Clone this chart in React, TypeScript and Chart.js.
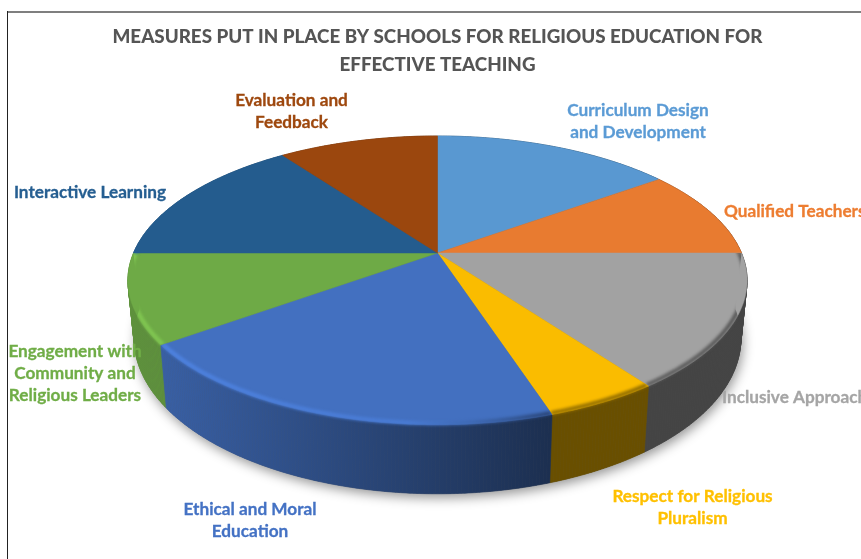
import React, { useEffect, useRef } from "react";
import { Chart, registerables } from "chart.js";

Chart.register(...registerables);

const categories = [
  ["Curriculum Design", "and Development"],
  ["Qualified Teachers"],
  ["Inclusive Approach"],
  ["Respect for Religious", "Pluralism"],
  ["Ethical and Moral", "Education"],
  ["Engagement with", "Community and", "Religious Leaders"],
  ["Interactive Learning"],
  ["Evaluation and", "Feedback"],
];
const shares = [15, 10, 15, 5, 20, 10, 15, 10];
const sliceColors = ["#5B9BD5", "#ED7D31", "#A5A5A5", "#FFC000", "#4472C4", "#70AD47", "#255E91", "#9E480E"];
const titleLines = [
  "MEASURES PUT IN PLACE BY SCHOOLS FOR RELIGIOUS EDUCATION FOR",
  "EFFECTIVE TEACHING",
];

// Label placement on the canvas: [x, first line centre y, text alignment]
const labelAnchors: [number, number, CanvasTextAlign][] = [
  [630, 97, "center"],
  [716, 198, "left"],
  [714, 384, "left"],
  [684.5, 483, "center"],
  [242, 496, "center"],
  [67, 338, "center"],
  [82, 179, "center"],
  [283.5, 87, "center"],
];

const FONT = "Lato, Carlito, sans-serif";
const PIE_CENTER_Y = 240;
const RADIUS_X = 304;
const RADIUS_Y = 139.2;
const TILT = 0.1894;
const DEPTH = 56;
const FLOOR_SCALE = 0.98;
const FACE_TONE = 0.98;

type Pt = [number, number];

function shade(hex: string, f: number) {
  const n = parseInt(hex.slice(1), 16);
  const ch = (v: number) => Math.min(255, Math.round(v * f));
  return `rgb(${ch((n >> 16) & 255)},${ch((n >> 8) & 255)},${ch(n & 255)})`;
}

// Perspective projection of a point on the disc's rim; lower = bottom face.
function rim(cx: number, a: number, lower = false, inset = 1): Pt {
  const u = Math.cos(a);
  const v = Math.sin(a) * inset;
  const t = 1 / (1 - TILT * v);
  if (lower) return [cx + RADIUS_X * FLOOR_SCALE * u * t, PIE_CENTER_Y + (RADIUS_Y * v + DEPTH) * t];
  return [cx + RADIUS_X * u * inset * t, PIE_CENTER_Y + RADIUS_Y * v * t];
}

function rimRun(cx: number, a0: number, a1: number, lower = false, inset = 1) {
  const n = Math.max(2, Math.ceil((a1 - a0) / 0.01));
  const pts: Pt[] = [];
  for (let i = 0; i <= n; i++) pts.push(rim(cx, a0 + ((a1 - a0) * i) / n, lower, inset));
  return pts;
}

function trace(ctx: CanvasRenderingContext2D, pts: Pt[]) {
  ctx.beginPath();
  pts.forEach(([x, y], i) => (i ? ctx.lineTo(x, y) : ctx.moveTo(x, y)));
}

// Draws the pie's arcs as a tilted disc, using the angles Chart.js computed.
const discPlugin = {
  id: "disc",
  beforeDatasetsDraw(chart: any) {
    const ctx: CanvasRenderingContext2D = chart.ctx;
    const arcs = chart.getDatasetMeta(0).data;
    const cx = arcs[0].x;
    ctx.save();

    // Soft drop shadow under the disc
    ctx.save();
    ctx.shadowColor = "rgba(0,0,0,0.42)";
    ctx.shadowBlur = 12;
    ctx.shadowOffsetY = 4;
    ctx.shadowOffsetX = 2;
    ctx.fillStyle = "#555";
    trace(ctx, rimRun(cx, 0, Math.PI * 2, true));
    ctx.fill();
    ctx.restore();

    // Side walls, furthest first; filled strip by strip so the silhouette stays closed
    const order = arcs
      .map((arc: any, i: number) => ({ arc, i }))
      .sort((p: any, q: any) =>
        Math.sin((p.arc.startAngle + p.arc.endAngle) / 2) - Math.sin((q.arc.startAngle + q.arc.endAngle) / 2));
    for (const { arc, i } of order) {
      const g = ctx.createLinearGradient(cx - 280, 0, cx + 113, 0);
      g.addColorStop(0, shade(sliceColors[i], 0.84));
      g.addColorStop(1, shade(sliceColors[i], 0.41));
      ctx.fillStyle = g;
      ctx.strokeStyle = g;
      ctx.lineWidth = 0.6;
      const upper = rimRun(cx, arc.startAngle, arc.endAngle);
      const lower = rimRun(cx, arc.startAngle, arc.endAngle, true);
      for (let k = 0; k + 1 < upper.length; k++) {
        trace(ctx, [upper[k], upper[k + 1], lower[k + 1], lower[k]]);
        ctx.closePath();
        ctx.fill();
        ctx.stroke();
      }
    }

    // Top faces
    arcs.forEach((arc: any, i: number) => {
      const c = shade(sliceColors[i], FACE_TONE);
      trace(ctx, [[cx, PIE_CENTER_Y], ...rimRun(cx, arc.startAngle, arc.endAngle)]);
      ctx.closePath();
      ctx.fillStyle = c;
      ctx.strokeStyle = c;
      ctx.lineWidth = 0.5;
      ctx.fill();
      ctx.stroke();
    });

    // Bevel along the near rim: light on the left, dark on the right
    arcs.forEach((arc: any, i: number) => {
      const from = Math.max(arc.startAngle, -0.25);
      const to = Math.min(arc.endAngle, Math.PI + 0.25);
      if (to <= from) return;
      ctx.save();
      trace(ctx, [
        [cx, PIE_CENTER_Y],
        rim(cx, arc.startAngle),
        ...rimRun(cx, arc.startAngle, arc.endAngle, true),
        rim(cx, arc.endAngle),
      ]);
      ctx.closePath();
      ctx.clip();
      const g = ctx.createLinearGradient(cx - 310, 0, cx + 310, 0);
      const c = sliceColors[i];
      g.addColorStop(0, shade(c, 1.16));
      g.addColorStop(0.45, shade(c, 1.08));
      g.addColorStop(0.56, shade(c, 0.9));
      g.addColorStop(0.68, shade(c, 0.6));
      g.addColorStop(1, shade(c, 0.52));
      ctx.filter = "blur(1.8px)";
      ctx.strokeStyle = g;
      ctx.lineWidth = 4;
      trace(ctx, rimRun(cx, from, to, false, 0.993));
      ctx.stroke();
      ctx.restore();
    });

    ctx.restore();
    return false;
  },
  afterDraw(chart: any) {
    const ctx: CanvasRenderingContext2D = chart.ctx;
    ctx.save();
    ctx.font = `bold 17.2px ${FONT}`;
    ctx.textBaseline = "middle";
    ctx.lineWidth = 0.3;
    categories.forEach((lines, i) => {
      const [x, y, align] = labelAnchors[i];
      ctx.textAlign = align;
      ctx.fillStyle = sliceColors[i];
      ctx.strokeStyle = sliceColors[i];
      lines.forEach((line, k) => {
        ctx.fillText(line, x, y + k * 22);
        ctx.strokeText(line, x, y + k * 22);
      });
    });
    ctx.restore();
  },
};

export default function App() {
  const ref = useRef<HTMLCanvasElement>(null);
  useEffect(() => {
    document.body.style.margin = "0";
    document.body.style.background = "#fff";
    const chart = new Chart(ref.current!, {
      type: "pie",
      data: {
        labels: categories.map((c) => c.join(" ")),
        datasets: [{ data: shares, backgroundColor: sliceColors, borderWidth: 0 }],
      },
      options: {
        animation: false,
        responsive: false,
        plugins: {
          legend: { display: false },
          tooltip: { enabled: false },
          title: {
            display: true,
            text: titleLines,
            color: "#555555",
            font: { family: FONT, size: 18.8, weight: 900, lineHeight: 1.49 },
            padding: { top: 10, bottom: 8 },
          },
        },
      },
      plugins: [discPlugin],
    } as any);
    return () => chart.destroy();
  }, []);

  return (
    <div style={{ position: "fixed", left: 0, top: 0, width: 861, height: 559, overflow: "hidden", background: "#fff" }}>
      <div style={{ position: "absolute", left: 7, top: 11, right: 0, height: 2, background: "#7f7f7f" }} />
      <div style={{ position: "absolute", left: 7, top: 11, bottom: 0, width: 1, background: "#222" }} />
      <canvas ref={ref} width={859} height={546} style={{ position: "absolute", left: 8, top: 13, display: "block" }} />
    </div>
  );
}
